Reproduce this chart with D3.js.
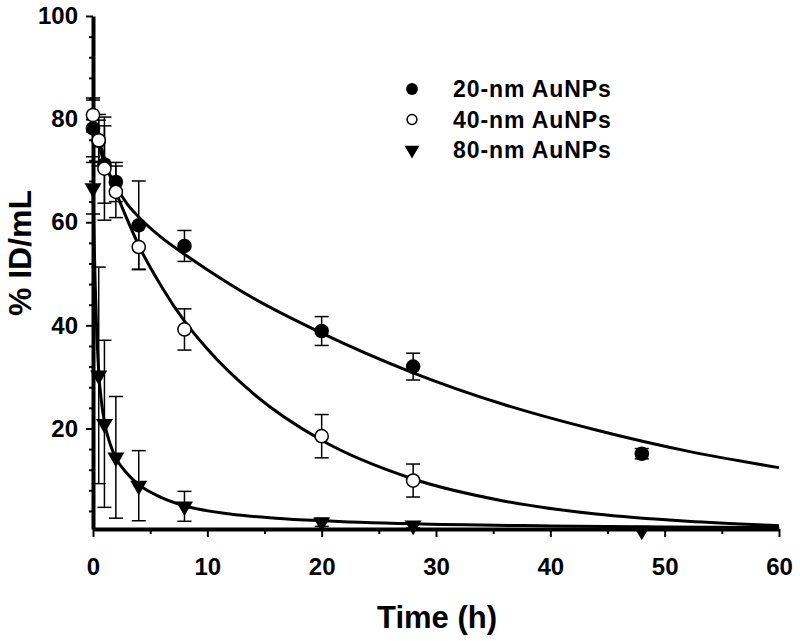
<!DOCTYPE html>
<html>
<head>
<meta charset="utf-8">
<script src="https://cdn.jsdelivr.net/npm/d3@7"></script>
<style>
	body { margin: 0; background: #fff; }
	svg { display: block; }
	text { font-family: 'Liberation Sans', Arial, sans-serif; font-weight: bold; fill: #000; }
</style>
</head>
<body>
<svg id="chart" width="800" height="641"></svg>
<script>
'use strict'

// measured points (time in h, % ID/mL, error)
const t20 = [0, 0.5, 1, 2, 4, 8, 20, 28, 48];
const v20 = [78.2, 75.8, 71.2, 67.8, 59.4, 55.4, 38.9, 32.0, 15.1];
const e20 = [5.5, 4, 7.5, 3.8, 8.6, 3, 2.8, 2.6, 1];

const t40 = [0, 0.5, 1, 2, 4, 8, 20, 28];
const v40 = [80.8, 75.9, 70.4, 65.9, 55.2, 39.2, 18.5, 9.9];
const e40 = [3.3, 5, 10, 5, 4.3, 4, 4.2, 3.2];

const t80 = [0, 0.5, 1, 2, 4, 8, 20, 28, 48];
const v80 = [66.6, 30.3, 20.9, 14.4, 8.9, 4.9, 1.8, 1.2, 0.2];
const e80 = [5, 21, 16.2, 11.8, 6.8, 2.9, 0.8, 0.5, 0];

// fitted curves
const fit20 = [[0, 78.5], [0.5, 75], [1, 71.5], [2, 67], [3, 63.5], [4, 61], [6, 57], [8, 53.8],
	[10, 50.8], [14, 45.3], [20, 38.5], [28, 30.8], [36, 24.6], [44, 19.7], [52, 15.6], [60, 12.4]];
const fit40 = [[0, 80], [0.5, 76], [1, 72.4], [2, 65.9], [3, 60.5], [4, 55.5], [6, 47.5], [8, 40.8],
	[10, 35.4], [14, 26.8], [20, 17.7], [28, 10.2], [36, 5.9], [44, 3.4], [52, 2.0], [60, 1.15]];
const fit80 = [[0, 66.6], [0.1, 56], [0.2, 47.5], [0.3, 40.5], [0.5, 31], [0.75, 25], [1, 21.2],
	[1.5, 17], [2, 14.3], [3, 11.2], [4, 9.1], [6, 6.6], [8, 5.0], [12, 3.4], [16, 2.6], [20, 2.1],
	[28, 1.5], [40, 1.1], [50, 0.9], [60, 0.8]];

const xTicks = [0, 10, 20, 30, 40, 50, 60];
const xMinor = [5, 15, 25, 35, 45, 55];
const yTicks = [20, 40, 60, 80, 100];
const yMinor = [4, 8, 12, 16, 24, 28, 32, 36, 44, 48, 52, 56, 64, 68, 72, 76, 84, 88, 92, 96];

const legendLabels = ['20-nm AuNPs', '40-nm AuNPs', '80-nm AuNPs'];

const svg = d3.select('#chart');

const x = d3.scaleLinear().domain([0, 60]).range([93, 779]);
const y = d3.scaleLinear().domain([0.5, 100]).range([529, 16]);

// axes
svg.append('g')
	.attr('transform', 'translate(0,529)')
	.call(d3.axisBottom(x).tickValues(xTicks).tickSize(8).tickSizeOuter(0).tickPadding(21));

svg.append('g')
	.attr('transform', 'translate(0,529)')
	.call(d3.axisBottom(x).tickValues(xMinor).tickSize(5).tickFormat(''))
	.call(g => g.select('.domain').remove());

svg.append('g')
	.attr('transform', 'translate(93,0)')
	.call(d3.axisLeft(y).tickValues(yTicks).tickSize(7).tickSizeOuter(0).tickPadding(8));

svg.append('g')
	.attr('transform', 'translate(93,0)')
	.call(d3.axisLeft(y).tickValues(yMinor).tickSize(4).tickFormat(''))
	.call(g => g.select('.domain').remove());

svg.selectAll('.domain')
	.attr('stroke', '#000')
	.attr('stroke-width', 4);

svg.selectAll('.tick line')
	.attr('stroke', '#000')
	.attr('stroke-width', 2);

svg.selectAll('.tick text')
	.style('font-size', '24px')
	.style('font-family', "'Liberation Sans', Arial, sans-serif")
	.style('font-weight', 'bold')
	.attr('fill', '#000');

// axis titles
svg.append('text')
	.attr('x', 437)
	.attr('y', 628)
	.attr('text-anchor', 'middle')
	.style('font-size', '31px')
	.text('Time (h)');

svg.append('text')
	.attr('transform', 'translate(31,253) rotate(-90)')
	.attr('text-anchor', 'middle')
	.style('font-size', '32px')
	.text('% ID/mL');

// fitted curves
const line = d3.line()
	.x(d => x(d[0]))
	.y(d => y(d[1]))
	.curve(d3.curveMonotoneX);

svg.append('g')
	.selectAll('path')
	.data([fit20, fit40, fit80])
	.enter()
	.append('path')
	.attr('d', line)
	.attr('fill', 'none')
	.attr('stroke', '#000')
	.attr('stroke-width', 3);

function toPoints(ts, vs, es) {
	return ts.map((t, i) => ({ t: t, v: vs[i], e: es[i] }));
}

const series = [
	{ pts: toPoints(t20, v20, e20), kind: 'filled' },
	{ pts: toPoints(t40, v40, e40), kind: 'open' },
	{ pts: toPoints(t80, v80, e80), kind: 'tri' }
];

function drawMarker(sel, kind, r, triSize) {
	if (kind === 'tri') {
		sel.append('path')
			.attr('d', d3.symbol().type(d3.symbolTriangle).size(triSize || 125)())
			.attr('transform', 'rotate(180)')
			.attr('fill', '#000');
	} else {
		sel.append('circle')
			.attr('r', r || (kind === 'filled' ? 7.3 : 6.6))
			.attr('fill', kind === 'filled' ? '#000' : '#fff')
			.attr('stroke', '#000')
			.attr('stroke-width', kind === 'filled' ? 0 : 1.5);
	}
}

series.forEach(function(s) {
	const g = svg.append('g');

	const bars = g.selectAll('.err')
		.data(s.pts.filter(d => d.e > 0))
		.enter()
		.append('g')
		.attr('class', 'err')
		.attr('stroke', '#000')
		.attr('stroke-width', 1.5);

	bars.append('line')
		.attr('x1', d => x(d.t)).attr('x2', d => x(d.t))
		.attr('y1', d => y(d.v - d.e)).attr('y2', d => y(d.v + d.e));
	bars.append('line')
		.attr('x1', d => x(d.t) - 7).attr('x2', d => x(d.t) + 7)
		.attr('y1', d => y(d.v + d.e)).attr('y2', d => y(d.v + d.e));
	bars.append('line')
		.attr('x1', d => x(d.t) - 7).attr('x2', d => x(d.t) + 7)
		.attr('y1', d => y(d.v - d.e)).attr('y2', d => y(d.v - d.e));

	g.selectAll('.mark')
		.data(s.pts)
		.enter()
		.append('g')
		.attr('class', 'mark')
		.attr('transform', d => 'translate(' + x(d.t) + ',' + y(d.v) + ')')
		.each(function() { drawMarker(d3.select(this), s.kind); });
});

// legend
const legend = svg.append('g')
	.selectAll('g')
	.data(legendLabels)
	.enter()
	.append('g')
	.attr('transform', (d, i) => 'translate(412,' + (89 + i * 30.5) + ')');

legend.each(function(d, i) {
	drawMarker(d3.select(this), series[i].kind, i === 0 ? 5.9 : 4.9, 95);
});

legend.append('text')
	.attr('x', 41)
	.attr('dy', '0.36em')
	.style('font-size', '23px')
	.style('letter-spacing', '0.9px')
	.text(d => d);
</script>
</body>
</html>
